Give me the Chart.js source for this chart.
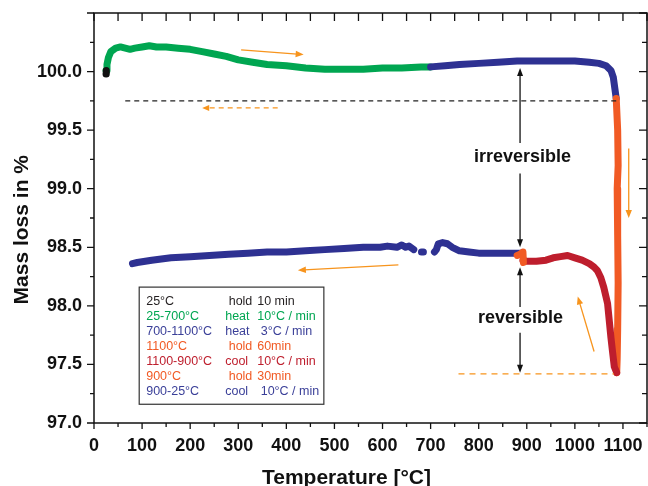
<!DOCTYPE html>
<html>
<head>
<meta charset="utf-8">
<script src="https://cdn.jsdelivr.net/npm/chart.js@4.4.0/dist/chart.umd.min.js"></script>
<style>
html, body { margin: 0; padding: 0; background: #fff; }
</style>
</head>
<body>
<canvas id="myChart" width="648" height="486"></canvas>
<script>
// temperature (°C) and mass (%) for each step of the run
var hold25T = [25, 25, 26];
var hold25M = [99.98, 100.0, 100.01];

var heat1T = [25, 27, 30, 35, 45, 55, 65, 75, 85, 100, 115, 130, 150, 175, 200, 225, 250, 275, 300, 330, 360, 400, 440, 480, 520, 560, 600, 640, 680, 700];
var heat1M = [100.01, 100.06, 100.12, 100.17, 100.2, 100.21, 100.2, 100.19, 100.2, 100.21, 100.22, 100.21, 100.21, 100.2, 100.19, 100.17, 100.15, 100.13, 100.1, 100.08, 100.06, 100.05, 100.03, 100.02, 100.02, 100.02, 100.03, 100.03, 100.04, 100.04];

var heat2T = [700, 730, 760, 800, 840, 880, 920, 960, 1000, 1030, 1050, 1065, 1075, 1080, 1083, 1086];
var heat2M = [100.04, 100.05, 100.06, 100.07, 100.08, 100.09, 100.09, 100.09, 100.09, 100.08, 100.07, 100.05, 100.01, 99.95, 99.86, 99.77];

var hold1100T = [1086, 1089, 1090, 1088, 1089, 1090, 1089, 1088, 1087];
var hold1100M = [99.77, 99.5, 99.2, 99.0, 98.6, 98.2, 97.8, 97.55, 97.43];

var cool1T = [1087, 1082, 1078, 1075, 1068, 1060, 1054, 1047, 1040, 1030, 1015, 1000, 985, 970, 955, 940, 920, 900, 892];
var cool1M = [97.43, 97.48, 97.62, 97.73, 98.02, 98.16, 98.24, 98.3, 98.33, 98.36, 98.39, 98.41, 98.43, 98.42, 98.41, 98.39, 98.38, 98.38, 98.39];

var hold900T = [893, 892, 886, 880];
var hold900M = [98.37, 98.46, 98.44, 98.43];

var cool2T = [887, 850, 820, 800, 780, 760, 745, 735, 725, 716, 712, 708, 700, 685, 681, 675, 665, 655, 648, 640, 630, 610, 595, 560, 520, 480, 440, 400, 360, 320, 280, 240, 200, 160, 120, 90, 80];
var cool2M = [98.45, 98.45, 98.45, 98.45, 98.46, 98.47, 98.5, 98.53, 98.54, 98.53, 98.48, 98.46, null, 98.46, 98.46, null, 98.48, 98.51, 98.5, 98.52, 98.5, 98.51, 98.5, 98.5, 98.49, 98.48, 98.47, 98.46, 98.46, 98.45, 98.44, 98.43, 98.42, 98.41, 98.39, 98.37, 98.36];

var xTicks = [0, 100, 200, 300, 400, 500, 600, 700, 800, 900, 1000, 1100];
var yTicks = [97.0, 97.5, 98.0, 98.5, 99.0, 99.5, 100.0];

// legend rows
var legRange = ['25°C', '25-700°C', '700-1100°C', '1100°C', '1100-900°C', '900°C', '900-25°C'];
var legMode = [' hold', 'heat', 'heat', ' hold', 'cool', ' hold', 'cool'];
var legRate = ['10 min', '10°C / min', ' 3°C / min', '60min', '10°C / min', '30min', ' 10°C / min'];
var legColors = ['#231f20', '#00a651', '#3a3f98', '#f15a24', '#be1e2d', '#f15a24', '#3a3f98'];

// annotations, in data units [x1, y1, x2, y2]
var orangeArrows = [[306, 100.185, 436, 100.145], [633, 98.35, 424, 98.305], [1040, 97.61, 1006, 98.08], [1112, 99.344, 1112, 98.75]];
var orangeDashArrow = [382, 99.69, 225, 99.69];
var blackArrows = [[886, 99.39, 886, 100.03], [886, 99.13, 886, 98.50], [886, 97.99, 886, 98.33], [886, 97.77, 886, 97.43]];
var blackDash = [65, 1086, 99.75];
var orangeDash = [758, 1081, 97.42];
var labelText = ['irreversible', 'reversible'];
var labelX = [891, 887];
var labelY = [99.27, 97.90];

function pts(t, m) {
    return t.map(function(x, i) { return {x: x, y: m[i]}; });
}

function series(t, m, color, order) {
    return {
        data: pts(t, m),
        showLine: true,
        borderColor: color,
        backgroundColor: color,
        borderWidth: 7,
        pointRadius: 0,
        borderCapStyle: 'round',
        borderJoinStyle: 'round',
        spanGaps: false,
        order: order
    };
}

const FONT = '"Liberation Sans", Arial, Helvetica, sans-serif';

function arrow(ctx, x1, y1, x2, y2, color, len, wid) {
    var a = Math.atan2(y2 - y1, x2 - x1);
    ctx.strokeStyle = color;
    ctx.fillStyle = color;
    ctx.beginPath();
    ctx.moveTo(x1, y1);
    ctx.lineTo(x2 - Math.cos(a) * len * 0.8, y2 - Math.sin(a) * len * 0.8);
    ctx.stroke();
    ctx.beginPath();
    ctx.moveTo(x2, y2);
    ctx.lineTo(x2 - Math.cos(a) * len - Math.sin(a) * wid, y2 - Math.sin(a) * len + Math.cos(a) * wid);
    ctx.lineTo(x2 - Math.cos(a) * len + Math.sin(a) * wid, y2 - Math.sin(a) * len - Math.cos(a) * wid);
    ctx.closePath();
    ctx.fill();
}

const frame = {
    id: 'frame',
    beforeDraw: function(chart) {
        var ctx = chart.ctx;
        ctx.save();
        ctx.fillStyle = '#fff';
        ctx.fillRect(0, 0, chart.width, chart.height);
        ctx.restore();
    },
    afterDatasetsDraw: function(chart) {
        var ctx = chart.ctx, a = chart.chartArea;
        var xs = chart.scales.x, ys = chart.scales.y;
        ctx.save();

        // dashed guide lines
        ctx.lineWidth = 1.3;
        ctx.setLineDash([5, 4]);
        ctx.strokeStyle = '#222';
        ctx.beginPath();
        ctx.moveTo(xs.getPixelForValue(blackDash[0]), ys.getPixelForValue(blackDash[2]));
        ctx.lineTo(xs.getPixelForValue(blackDash[1]), ys.getPixelForValue(blackDash[2]));
        ctx.stroke();
        ctx.strokeStyle = '#f7941d';
        ctx.setLineDash([6, 5]);
        ctx.beginPath();
        ctx.moveTo(xs.getPixelForValue(orangeDash[0]), ys.getPixelForValue(orangeDash[2]));
        ctx.lineTo(xs.getPixelForValue(orangeDash[1]), ys.getPixelForValue(orangeDash[2]));
        ctx.stroke();
        ctx.setLineDash([5, 4]);
        var d = orangeDashArrow;
        arrow(ctx, xs.getPixelForValue(d[0]), ys.getPixelForValue(d[1]), xs.getPixelForValue(d[2]), ys.getPixelForValue(d[3]), '#f7941d', 7, 3);
        ctx.setLineDash([]);

        // arrows
        ctx.lineWidth = 1.3;
        orangeArrows.forEach(function(r) {
            arrow(ctx, xs.getPixelForValue(r[0]), ys.getPixelForValue(r[1]), xs.getPixelForValue(r[2]), ys.getPixelForValue(r[3]), '#f7941d', 8, 3.2);
        });
        blackArrows.forEach(function(r) {
            arrow(ctx, xs.getPixelForValue(r[0]), ys.getPixelForValue(r[1]), xs.getPixelForValue(r[2]), ys.getPixelForValue(r[3]), '#111', 8, 3);
        });

        // labels
        ctx.fillStyle = '#111';
        ctx.font = 'bold 18px ' + FONT;
        ctx.textAlign = 'center';
        ctx.textBaseline = 'middle';
        labelText.forEach(function(t, i) {
            ctx.fillText(t, xs.getPixelForValue(labelX[i]), ys.getPixelForValue(labelY[i]));
        });

        // legend box
        var bl = xs.getPixelForValue(94), br = xs.getPixelForValue(478);
        var bt = ys.getPixelForValue(98.16), bb = ys.getPixelForValue(97.16);
        ctx.fillStyle = '#fff';
        ctx.fillRect(bl, bt, br - bl, bb - bt);
        ctx.strokeStyle = '#333';
        ctx.lineWidth = 1.2;
        ctx.strokeRect(bl, bt, br - bl, bb - bt);
        ctx.font = '12.5px ' + FONT;
        ctx.textAlign = 'left';
        legRange.forEach(function(t, i) {
            var y = bt + 14 + i * 15.1;
            ctx.fillStyle = legColors[i];
            ctx.fillText(t, bl + 7, y);
            ctx.fillText(legMode[i], bl + 86, y);
            ctx.fillText(legRate[i], bl + 118, y);
        });

        // frame and ticks
        ctx.strokeStyle = '#111';
        ctx.lineWidth = 1.5;
        ctx.strokeRect(a.left, a.top, a.right - a.left, a.bottom - a.top);
        ctx.lineWidth = 1.3;
        ctx.beginPath();
        for (var v = 0; v <= 1150; v += 50) {
            var px = xs.getPixelForValue(v);
            var major = v % 100 === 0;
            ctx.moveTo(px, a.bottom);
            ctx.lineTo(px, a.bottom + (major ? 6 : 4));
            ctx.moveTo(px, a.top);
            ctx.lineTo(px, a.top + 8);
        }
        for (var k = 0; k <= 14; k++) {
            var val = 97 + k * 0.25;
            var py = ys.getPixelForValue(val);
            var maj = k % 2 === 0;
            ctx.moveTo(a.left, py);
            ctx.lineTo(a.left - (maj ? 7 : 4), py);
            ctx.moveTo(a.right, py);
            ctx.lineTo(a.right - (maj ? 8 : 5), py);
        }
        ctx.stroke();

        // axis titles
        ctx.fillStyle = '#111';
        ctx.font = 'bold 21px ' + FONT;
        ctx.textAlign = 'center';
        ctx.textBaseline = 'alphabetic';
        ctx.fillText('Temperature [°C]', xs.getPixelForValue(525), 484);
        ctx.translate(28, ys.getPixelForValue(98.65));
        ctx.rotate(-Math.PI / 2);
        ctx.fillText('Mass loss in %', 0, 0);
        ctx.restore();
    }
};

const ctx = document.getElementById('myChart');
const myChart = new Chart(ctx, {
    type: 'scatter',
    data: {
        datasets: [
            series(hold25T, hold25M, '#111111', 1),
            series(heat1T, heat1M, '#00a651', 6),
            series(heat2T, heat2M, '#2e3192', 5),
            series(hold1100T, hold1100M, '#f15a24', 4),
            series(cool1T, cool1M, '#be1e2d', 3),
            series(hold900T, hold900M, '#f15a24', 2),
            series(cool2T, cool2M, '#2e3192', 7)
        ]
    },
    plugins: [frame],
    options: {
        responsive: false,
        animation: false,
        layout: { padding: { top: 13, right: 1, left: 0, bottom: 0 } },
        plugins: { legend: { display: false }, tooltip: { enabled: false } },
        scales: {
            x: {
                type: 'linear',
                min: 0,
                max: 1150,
                afterBuildTicks: function(s) { s.ticks = xTicks.map(function(v) { return {value: v}; }); },
                afterFit: function(s) { s.height = 63; s.paddingLeft = 0; s.paddingRight = 0; },
                grid: { display: false, drawTicks: false },
                border: { display: false },
                ticks: {
                    color: '#111',
                    padding: 12,
                    maxRotation: 0,
                    font: { family: FONT, size: 18, weight: 'bold' },
                    callback: function(v) { return String(v); }
                }
            },
            y: {
                type: 'linear',
                min: 97,
                max: 100.5,
                afterBuildTicks: function(s) { s.ticks = yTicks.map(function(v) { return {value: v}; }); },
                afterFit: function(s) { s.width = 94; s.paddingTop = 0; s.paddingBottom = 0; },
                grid: { display: false, drawTicks: false },
                border: { display: false },
                ticks: {
                    color: '#111',
                    padding: 12,
                    font: { family: FONT, size: 18, weight: 'bold' },
                    callback: function(v) { return Number(v).toFixed(1); }
                }
            }
        }
    }
});
</script>
</body>
</html>
